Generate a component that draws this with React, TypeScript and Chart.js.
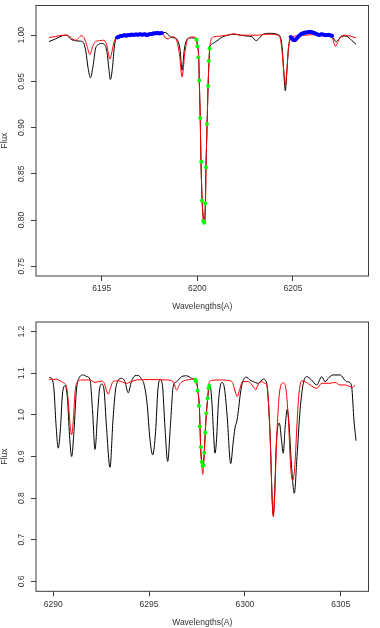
import { useEffect, useRef } from "react";
import { Chart, registerables } from "chart.js";

Chart.register(...registerables);

type Pt = [number, number];

// ---------- Panel 1: 6192–6208 Å ----------
const topWaveTicks = [6195, 6200, 6205];
const topFluxTicks = [0.75, 0.8, 0.85, 0.9, 0.95, 1.0];
const topFluxLabels = ["0.75", "0.80", "0.85", "0.90", "0.95", "1.00"];

const topObserved: Pt[] = [
  [6192.24, 0.993], [6192.58, 0.996], [6192.95, 0.9995], [6193.16, 1.0], [6193.36, 0.996],
  [6193.63, 0.994], [6193.89, 0.9935], [6194.04, 0.992], [6194.17, 0.982], [6194.28, 0.965],
  [6194.41, 0.954], [6194.54, 0.966], [6194.67, 0.985], [6194.83, 0.99], [6194.98, 0.991],
  [6195.14, 0.99], [6195.27, 0.982], [6195.38, 0.962], [6195.45, 0.952], [6195.56, 0.965],
  [6195.66, 0.988], [6195.8, 0.998], [6196.08, 1.0], [6196.5, 1.0], [6197.02, 1.0005],
  [6197.54, 1.001], [6198.07, 1.002], [6198.33, 1.003], [6198.59, 0.998], [6198.8, 0.997],
  [6198.95, 0.995], [6199.09, 0.985], [6199.2, 0.962], [6199.32, 0.985], [6199.48, 0.996],
  [6199.69, 0.997], [6199.84, 0.997], [6199.95, 0.994], [6200.02, 0.987], [6200.07, 0.975],
  [6200.1, 0.951], [6200.15, 0.91], [6200.19, 0.863], [6200.25, 0.821], [6200.33, 0.799],
  [6200.37, 0.797], [6200.42, 0.818], [6200.45, 0.857], [6200.51, 0.904], [6200.56, 0.945],
  [6200.61, 0.972], [6200.64, 0.985], [6200.73, 0.99], [6200.89, 0.992], [6201.1, 0.995],
  [6201.31, 0.998], [6201.57, 1.0], [6201.93, 1.001], [6202.25, 1.0], [6202.61, 0.999],
  [6202.87, 0.998], [6203.08, 0.994], [6203.24, 0.997], [6203.45, 1.001], [6203.82, 1.002],
  [6204.18, 1.001], [6204.34, 0.998], [6204.44, 0.985], [6204.52, 0.96], [6204.6, 0.94],
  [6204.68, 0.96], [6204.76, 0.985], [6204.86, 0.996], [6204.96, 0.998], [6205.12, 0.996],
  [6205.38, 1.001], [6205.9, 1.003], [6206.43, 1.001], [6206.95, 1.0], [6207.1, 0.997],
  [6207.26, 0.993], [6207.41, 0.996], [6207.62, 0.999], [6207.88, 0.998], [6208.09, 0.994],
  [6208.3, 0.99],
];

const topModel: Pt[] = [
  [6192.24, 0.9975], [6192.58, 0.9985], [6192.95, 1.0], [6193.16, 1.0], [6193.36, 0.998],
  [6193.47, 0.996], [6193.63, 0.9945], [6193.78, 0.997], [6193.94, 0.9995], [6194.1, 0.996],
  [6194.23, 0.988], [6194.38, 0.979], [6194.51, 0.987], [6194.67, 0.993], [6194.88, 0.994],
  [6195.09, 0.9945], [6195.25, 0.99], [6195.35, 0.98], [6195.43, 0.974], [6195.53, 0.982],
  [6195.66, 0.994], [6195.82, 0.998], [6196.24, 1.0], [6196.76, 1.0], [6197.28, 1.0005],
  [6197.81, 1.001], [6198.17, 1.0015], [6198.33, 0.997], [6198.48, 0.996], [6198.69, 0.9985],
  [6198.9, 0.995], [6199.06, 0.98], [6199.2, 0.955], [6199.34, 0.98], [6199.48, 0.995],
  [6199.69, 0.998], [6199.84, 0.998], [6199.95, 0.995], [6200.02, 0.988], [6200.07, 0.976],
  [6200.1, 0.951], [6200.15, 0.91], [6200.19, 0.863], [6200.25, 0.821], [6200.33, 0.798],
  [6200.37, 0.797], [6200.42, 0.818], [6200.45, 0.857], [6200.51, 0.904], [6200.56, 0.945],
  [6200.61, 0.972], [6200.65, 0.987], [6200.71, 0.995], [6200.84, 0.998], [6201.2, 0.999],
  [6201.57, 1.0], [6201.93, 1.0015], [6202.25, 1.0], [6202.77, 1.0], [6203.19, 1.0],
  [6203.55, 1.001], [6203.92, 1.001], [6204.18, 1.0], [6204.34, 0.996], [6204.44, 0.98],
  [6204.52, 0.96], [6204.6, 0.946], [6204.68, 0.962], [6204.76, 0.985], [6204.86, 0.997],
  [6205.12, 0.999], [6205.64, 1.0], [6206.16, 1.0005], [6206.69, 1.0], [6206.95, 0.999],
  [6207.08, 0.996], [6207.21, 0.988], [6207.34, 0.992], [6207.47, 0.998], [6207.73, 1.0],
  [6207.99, 0.999], [6208.3, 0.997],
];

// continuum windows used for normalisation
const topContinuum: Pt[] = [
  [6195.8, 0.9975], [6195.86, 0.998], [6195.92, 0.9985], [6195.98, 0.999], [6196.04, 0.9992],
  [6196.1, 0.9995], [6196.16, 0.9998], [6196.22, 1.0], [6196.28, 0.9995], [6196.34, 1.0],
  [6196.4, 1.0002], [6196.46, 1.0], [6196.52, 1.0004], [6196.58, 1.0006], [6196.64, 1.0003],
  [6196.7, 1.0005], [6196.76, 1.0008], [6196.82, 1.0006], [6196.88, 1.0004], [6196.94, 1.0008],
  [6197.0, 1.001], [6197.06, 1.0007], [6197.12, 1.0005], [6197.18, 1.0008], [6197.24, 1.001],
  [6197.3, 1.0006], [6197.36, 1.0], [6197.42, 1.0004], [6197.48, 1.001], [6197.54, 1.0014],
  [6197.6, 1.0012], [6197.66, 1.0016], [6197.72, 1.002], [6197.78, 1.0018], [6197.84, 1.0022],
  [6197.9, 1.0025], [6197.96, 1.002], [6198.02, 1.0018], [6198.08, 1.0022], [6198.14, 1.0024],
  [6204.88, 0.998], [6204.94, 0.9965], [6205.0, 0.995], [6205.06, 0.9945], [6205.12, 0.9948],
  [6205.18, 0.996], [6205.24, 0.9975], [6205.3, 0.999], [6205.36, 1.0], [6205.42, 1.0012],
  [6205.48, 1.0018], [6205.54, 1.002], [6205.6, 1.0025], [6205.66, 1.0028], [6205.72, 1.003],
  [6205.78, 1.0032], [6205.84, 1.0035], [6205.9, 1.0036], [6205.96, 1.0034], [6206.02, 1.003],
  [6206.08, 1.0025], [6206.14, 1.002], [6206.2, 1.0015], [6206.26, 1.001], [6206.32, 1.0005],
  [6206.38, 1.0002], [6206.44, 1.0006], [6206.5, 1.001], [6206.56, 1.0008], [6206.62, 1.0005],
  [6206.68, 1.0002], [6206.74, 1.0], [6206.8, 1.0002], [6206.86, 1.0004], [6206.92, 1.0],
  [6206.98, 0.9996], [6207.04, 0.9993],
];

const topLineFit: Pt[] = [
  [6199.95, 0.995], [6200.0, 0.988], [6200.05, 0.976], [6200.1, 0.951], [6200.15, 0.9105],
  [6200.2, 0.863], [6200.24, 0.821], [6200.3, 0.799], [6200.36, 0.797], [6200.41, 0.818],
  [6200.45, 0.857], [6200.5, 0.904], [6200.56, 0.945], [6200.6, 0.972], [6200.64, 0.9856],
];

// ---------- Panel 2: 6290–6306 Å ----------
const botWaveTicks = [6290, 6295, 6300, 6305];
const botFluxTicks = [0.6, 0.7, 0.8, 0.9, 1.0, 1.1, 1.2];
const botFluxLabels = ["0.6", "0.7", "0.8", "0.9", "1.0", "1.1", "1.2"];

const botObserved: Pt[] = [
  [6289.78, 1.09], [6289.91, 1.088], [6290.04, 1.06], [6290.14, 0.98], [6290.26, 0.92],
  [6290.38, 0.97], [6290.48, 1.05], [6290.61, 1.07], [6290.74, 1.04], [6290.85, 0.95],
  [6290.96, 0.9], [6291.08, 0.96], [6291.21, 1.06], [6291.34, 1.088], [6291.57, 1.096],
  [6291.76, 1.092], [6291.92, 1.085], [6292.05, 1.01], [6292.18, 0.917], [6292.31, 1.0],
  [6292.41, 1.06], [6292.53, 1.074], [6292.65, 1.06], [6292.78, 0.97], [6292.96, 0.874],
  [6293.12, 0.99], [6293.25, 1.06], [6293.38, 1.082], [6293.57, 1.088], [6293.74, 1.08],
  [6293.91, 1.053], [6294.08, 1.08], [6294.26, 1.094], [6294.42, 1.095], [6294.58, 1.088],
  [6294.73, 1.075], [6294.89, 1.03], [6295.05, 0.94], [6295.19, 0.904], [6295.34, 0.96],
  [6295.46, 1.06], [6295.57, 1.085], [6295.7, 1.07], [6295.83, 0.97], [6295.97, 0.888],
  [6296.12, 0.98], [6296.26, 1.068], [6296.44, 1.08], [6296.7, 1.092], [6296.96, 1.094],
  [6297.22, 1.088], [6297.4, 1.085], [6297.48, 1.078], [6297.55, 1.058], [6297.62, 1.022],
  [6297.66, 0.972], [6297.69, 0.923], [6297.75, 0.887], [6297.8, 0.875], [6297.83, 0.879],
  [6297.88, 0.909], [6297.93, 0.957], [6297.99, 1.004], [6298.06, 1.04], [6298.11, 1.062],
  [6298.18, 1.07], [6298.28, 1.03], [6298.36, 0.96], [6298.44, 0.908], [6298.52, 0.94],
  [6298.62, 1.03], [6298.79, 1.078], [6298.91, 1.07], [6299.07, 1.0], [6299.26, 0.883],
  [6299.38, 0.93], [6299.48, 0.968], [6299.58, 0.985], [6299.66, 1.01], [6299.76, 1.05],
  [6299.86, 1.075], [6300.06, 1.091], [6300.26, 1.084], [6300.44, 1.08], [6300.7, 1.076],
  [6300.96, 1.086], [6301.14, 1.076], [6301.23, 1.03], [6301.34, 0.92], [6301.42, 0.8],
  [6301.48, 0.76], [6301.55, 0.81], [6301.64, 0.93], [6301.73, 0.975], [6301.8, 0.98],
  [6301.91, 0.94], [6302.0, 0.908], [6302.1, 0.97], [6302.21, 1.0135], [6302.3, 0.98],
  [6302.43, 0.88], [6302.58, 0.8115], [6302.72, 0.9], [6302.88, 1.012], [6303.05, 1.076],
  [6303.23, 1.092], [6303.45, 1.085], [6303.75, 1.072], [6304.01, 1.092], [6304.18, 1.08],
  [6304.39, 1.09], [6304.61, 1.096], [6304.96, 1.096], [6305.31, 1.08], [6305.49, 1.0775],
  [6305.59, 1.06], [6305.69, 0.988], [6305.8, 0.938],
];

const botModel: Pt[] = [
  [6289.78, 1.0856], [6290.18, 1.0856], [6290.35, 1.082], [6290.52, 1.0775], [6290.7, 1.066],
  [6290.79, 1.03], [6290.87, 0.98], [6290.96, 0.952], [6291.05, 0.99], [6291.13, 1.05],
  [6291.22, 1.076], [6291.48, 1.084], [6291.92, 1.084], [6292.18, 1.078], [6292.53, 1.0815],
  [6292.67, 1.075], [6292.78, 1.058], [6292.87, 1.05], [6292.99, 1.065], [6293.12, 1.08],
  [6293.38, 1.082], [6293.83, 1.076], [6294.06, 1.08], [6294.35, 1.084], [6295.05, 1.085],
  [6295.92, 1.084], [6296.26, 1.08], [6296.44, 1.06], [6296.61, 1.075], [6296.82, 1.082],
  [6297.13, 1.085], [6297.31, 1.086], [6297.4, 1.085], [6297.48, 1.078], [6297.55, 1.057],
  [6297.62, 1.02], [6297.66, 0.97], [6297.69, 0.92], [6297.75, 0.88], [6297.8, 0.857],
  [6297.84, 0.875], [6297.88, 0.907], [6297.93, 0.955], [6297.99, 1.003], [6298.06, 1.04],
  [6298.1, 1.066], [6298.14, 1.078], [6298.28, 1.083], [6298.7, 1.084], [6299.22, 1.082],
  [6299.38, 1.075], [6299.5, 1.055], [6299.6, 1.044], [6299.72, 1.06], [6299.88, 1.08],
  [6300.18, 1.08], [6300.32, 1.075], [6300.44, 1.068], [6300.56, 1.06], [6300.68, 1.072],
  [6300.89, 1.08], [6301.02, 1.076], [6301.14, 1.072], [6301.23, 1.03], [6301.34, 0.92],
  [6301.42, 0.8], [6301.48, 0.755], [6301.55, 0.8], [6301.64, 0.92], [6301.72, 1.0],
  [6301.81, 1.055], [6302.0, 1.077], [6302.15, 1.06], [6302.28, 0.98], [6302.38, 0.88],
  [6302.49, 0.842], [6302.61, 0.88], [6302.72, 0.98], [6302.82, 1.05], [6302.96, 1.082],
  [6303.14, 1.08], [6303.4, 1.072], [6303.75, 1.064], [6304.01, 1.076], [6304.44, 1.076],
  [6304.7, 1.078], [6304.96, 1.072], [6305.22, 1.072], [6305.49, 1.068], [6305.62, 1.066],
  [6305.75, 1.072],
];

const botLineFit: Pt[] = [
  [6297.4, 1.085], [6297.45, 1.08], [6297.53, 1.058], [6297.6, 1.022], [6297.65, 0.972],
  [6297.7, 0.923], [6297.75, 0.887], [6297.8, 0.877], [6297.84, 0.879], [6297.88, 0.909],
  [6297.93, 0.957], [6297.99, 1.004], [6298.05, 1.04], [6298.11, 1.064], [6298.14, 1.07],
];

// ---------- drawing ----------
const FONT = "'Liberation Sans', Arial, Helvetica, sans-serif";
const W = 380;
const H = 314;

interface PanelSpec {
  observed: Pt[];
  model: Pt[];
  continuum: Pt[];
  lineFit: Pt[];
  xMin: number;
  xMax: number;
  yMin: number;
  yMax: number;
  xTicks: number[];
  yTicks: number[];
  yLabels: string[];
  areaTop: number;
  areaBottom: number;
  titleY: number;
}

const toXY = (pts: Pt[]) => pts.map(([x, y]) => ({ x, y }));

function makeChart(canvas: HTMLCanvasElement, p: PanelSpec) {
  const decor = {
    id: "decor",
    afterDraw(chart: any) {
      const { ctx, chartArea: a, scales } = chart;
      ctx.save();
      ctx.strokeStyle = "#3c3c3c";
      ctx.lineWidth = 1;
      ctx.strokeRect(a.left, a.top, a.right - a.left, a.bottom - a.top);
      ctx.fillStyle = "#333";
      ctx.font = `8.5px ${FONT}`;
      ctx.textAlign = "center";
      ctx.textBaseline = "middle";
      p.yTicks.forEach((v, i) => {
        const py = scales.y.getPixelForValue(v);
        ctx.save();
        ctx.translate(21.5, py);
        ctx.rotate(-Math.PI / 2);
        ctx.fillText(p.yLabels[i], 0, 0);
        ctx.restore();
      });
      ctx.fillText("Wavelengths(A)", (a.left + a.right) / 2, p.titleY);
      ctx.save();
      ctx.translate(4.5, (a.top + a.bottom) / 2);
      ctx.rotate(-Math.PI / 2);
      ctx.fillText("Flux", 0, 0);
      ctx.restore();
      ctx.restore();
    },
  };

  return new Chart(canvas, {
    type: "scatter",
    data: {
      datasets: [
        {
          label: "line fit",
          data: toXY(p.lineFit),
          showLine: false,
          pointRadius: 2,
          pointBorderWidth: 0,
          pointBackgroundColor: "#00ff00",
          order: 0,
        },
        {
          label: "continuum",
          data: toXY(p.continuum),
          showLine: false,
          pointRadius: 2,
          pointBorderWidth: 0,
          pointBackgroundColor: "#0000ff",
          order: 1,
        },
        {
          label: "model",
          data: toXY(p.model),
          showLine: true,
          borderColor: "#ff0000",
          borderWidth: 1,
          pointRadius: 0,
          cubicInterpolationMode: "monotone",
          order: 2,
        },
        {
          label: "observed",
          data: toXY(p.observed),
          showLine: true,
          borderColor: "#000000",
          borderWidth: 1,
          pointRadius: 0,
          cubicInterpolationMode: "monotone",
          order: 3,
        },
      ],
    } as any,
    options: {
      responsive: false,
      devicePixelRatio: 1,
      animation: false,
      events: [],
      layout: { padding: { left: 0, top: p.areaTop, right: W - 368.5, bottom: 0 } },
      plugins: { legend: { display: false }, tooltip: { enabled: false } },
      scales: {
        x: {
          type: "linear",
          min: p.xMin,
          max: p.xMax,
          afterBuildTicks: (s: any) => {
            s.ticks = p.xTicks.map((value) => ({ value }));
          },
          afterFit: (s: any) => {
            s.height = H - p.areaBottom;
          },
          grid: { display: true, drawOnChartArea: false, drawTicks: true, tickLength: 5, color: "#3c3c3c" },
          border: { display: false },
          ticks: {
            color: "#333",
            font: { family: FONT, size: 8.5 },
            padding: 3,
            maxRotation: 0,
            autoSkip: false,
            callback: (v: any) => String(v),
          },
        },
        y: {
          type: "linear",
          min: p.yMin,
          max: p.yMax,
          afterBuildTicks: (s: any) => {
            s.ticks = p.yTicks.map((value) => ({ value }));
          },
          afterFit: (s: any) => {
            s.width = 36;
          },
          grid: { display: true, drawOnChartArea: false, drawTicks: true, tickLength: 5, color: "#3c3c3c" },
          border: { display: false },
          ticks: { display: false },
        },
      },
    } as any,
    plugins: [decor],
  });
}

const topPanel: PanelSpec = {
  observed: topObserved,
  model: topModel,
  continuum: topContinuum,
  lineFit: topLineFit,
  xMin: 6191.56,
  xMax: 6208.95,
  yMin: 0.7395,
  yMax: 1.0321,
  xTicks: topWaveTicks,
  yTicks: topFluxTicks,
  yLabels: topFluxLabels,
  areaTop: 5.5,
  areaBottom: 276,
  titleY: 306.5,
};

const bottomPanel: PanelSpec = {
  observed: botObserved,
  model: botModel,
  continuum: [],
  lineFit: botLineFit,
  xMin: 6289.1,
  xMax: 6306.45,
  yMin: 0.576,
  yMax: 1.2233,
  xTicks: botWaveTicks,
  yTicks: botFluxTicks,
  yLabels: botFluxLabels,
  areaTop: 8,
  areaBottom: 277.3,
  titleY: 308.5,
};

function Panel({ spec, top }: { spec: PanelSpec; top: number }) {
  const ref = useRef<HTMLCanvasElement | null>(null);
  useEffect(() => {
    if (!ref.current) return;
    const chart = makeChart(ref.current, spec);
    return () => chart.destroy();
  }, [spec]);
  return (
    <canvas
      ref={ref}
      width={W}
      height={H}
      style={{ position: "absolute", left: 0, top, width: W, height: H, display: "block" }}
    />
  );
}

export default function App() {
  return (
    <div style={{ position: "absolute", left: 0, top: 0, width: W, height: 628, background: "#fff" }}>
      <Panel spec={topPanel} top={0} />
      <Panel spec={bottomPanel} top={314} />
    </div>
  );
}
